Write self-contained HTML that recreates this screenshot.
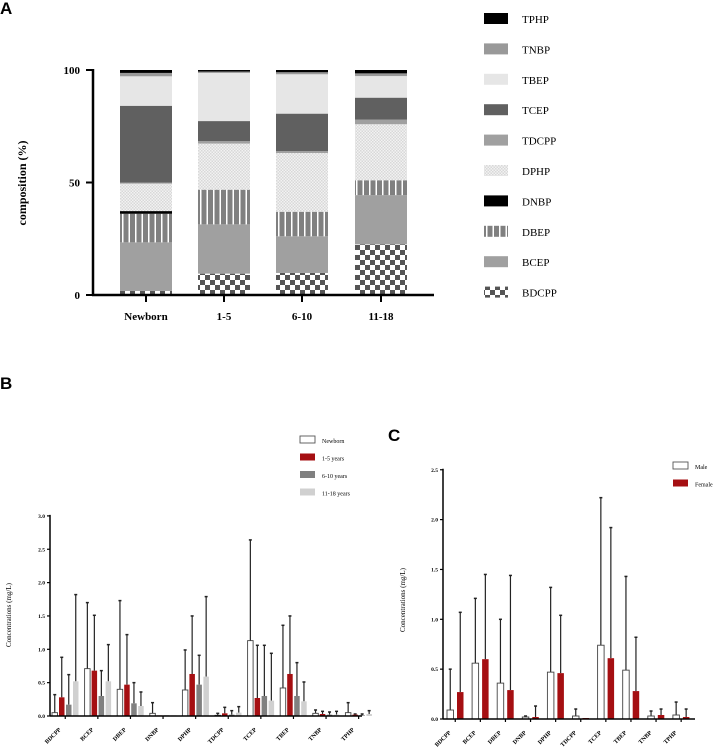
<!DOCTYPE html>
<html><head><meta charset="utf-8"><style>
html,body{margin:0;padding:0;background:#fff;}
svg{display:block;font-family:"Liberation Serif",serif;}
.lbl{font-family:"Liberation Sans",sans-serif;font-weight:bold;font-size:17px;}
</style></head><body>
<svg id="fig" width="714" height="756" viewBox="0 0 714 756" xmlns="http://www.w3.org/2000/svg">
<defs>
<pattern id="pChk" width="10" height="10" patternUnits="userSpaceOnUse"><rect width="10" height="10" fill="#fff"/><rect width="5" height="5" fill="#555"/><rect x="5" y="5" width="5" height="5" fill="#555"/></pattern>
<pattern id="pFine" width="3" height="3" patternUnits="userSpaceOnUse"><rect width="3" height="3" fill="#f2f2f2"/><rect width="1.5" height="1.5" fill="#d8d8d8"/><rect x="1.5" y="1.5" width="1.5" height="1.5" fill="#d8d8d8"/></pattern>
<pattern id="pStripe" width="6.5" height="10" patternUnits="userSpaceOnUse"><rect width="6.5" height="10" fill="#808080"/><rect x="5" width="1.5" height="10" fill="#fff"/></pattern>
</defs>
<text class="lbl" x="0" y="14">A</text>
<text class="lbl" x="0" y="389">B</text>
<text class="lbl" x="388" y="441">C</text>
<g id="gA"></g>
<g id="gB"></g>
<g id="gC"></g>
</svg>
<script>
// Panel A data
const aCategories = ["Newborn","1-5","6-10","11-18"];
const aComponents = ["BDCPP","BCEP","DBEP","DNBP","DPHP","TDCPP","TCEP","TBEP","TNBP","TPHP"];
const aNewborn = [1.8,21.6,12.7,1.2,12.2,0.5,34.1,13.1,1.5,1.3];
const a1to5 = [9.5,21.9,15.4,0.0,20.5,1.1,8.9,21.4,0.6,0.7];
const a6to10 = [9.8,16.3,10.9,0.0,26.1,0.9,16.6,17.5,0.9,1.0];
const a11to18 = [22.5,21.9,6.6,0.0,24.9,2.1,9.7,9.6,1.2,1.5];
const aTicks = [0,50,100];
// Panel B data
const bCategories = ["BDCPP","BCEP","DBEP","DNBP","DPHP","TDCPP","TCEP","TBEP","TNBP","TPHP"];
const bSeriesNames = ["Newborn","1-5 years","6-10 years","11-18 years"];
const bNewborn = [0.05,0.71,0.40,0.04,0.39,0.01,1.13,0.42,0.04,0.05];
const bNewbornErr = [0.32,1.70,1.73,0.20,0.99,0.04,2.64,1.36,0.09,0.20];
const b1to5 = [0.28,0.68,0.47,0.00,0.63,0.04,0.27,0.63,0.03,0.02];
const b1to5Err = [0.88,1.51,1.22,0.00,1.50,0.13,1.06,1.50,0.07,0.03];
const b6to10 = [0.17,0.30,0.19,0.01,0.47,0.02,0.30,0.30,0.02,0.01];
const b6to10Err = [0.62,0.68,0.50,0.01,0.91,0.08,1.06,0.80,0.06,0.03];
const b11to18 = [0.52,0.52,0.15,0.01,0.59,0.05,0.23,0.22,0.02,0.03];
const b11to18Err = [1.82,1.07,0.36,0.01,1.79,0.14,0.94,0.51,0.07,0.08];
const bTicks = ["0.0","0.5","1.0","1.5","2.0","2.5","3.0"];
// Panel C data
const cCategories = ["BDCPP","BCEP","DBEP","DNBP","DPHP","TDCPP","TCEP","TBEP","TNBP","TPHP"];
const cSeriesNames = ["Male","Female"];
const cMale = [0.09,0.56,0.36,0.02,0.47,0.03,0.74,0.49,0.03,0.04];
const cMaleErr = [0.50,1.21,1.00,0.03,1.32,0.10,2.22,1.43,0.08,0.17];
const cFemale = [0.27,0.60,0.29,0.02,0.46,0.01,0.61,0.28,0.04,0.02];
const cFemaleErr = [1.07,1.45,1.44,0.13,1.04,0.01,1.92,0.82,0.10,0.10];
const cTicks = ["0.0","0.5","1.0","1.5","2.0","2.5"];

const NS="http://www.w3.org/2000/svg";
function mk(parent,tag,attrs,text){const e=document.createElementNS(NS,tag);for(const k in attrs)e.setAttribute(k,attrs[k]);if(text!==undefined)e.textContent=text;parent.appendChild(e);return e;}

// ---------- Panel A ----------
(function(){
const g=document.getElementById('gA');
const x0=93,y0=295,yTop=70,xEnd=434;
const ys=v=>y0-(v/100)*(y0-yTop);
const fills=["url(#pChk)","#a0a0a0","url(#pStripe)","#000","url(#pFine)","#a0a0a0","#606060","#e6e6e6","#999","#000"];
const data=[aNewborn,a1to5,a6to10,a11to18];
const centers=[146,224,302,381], bw=52;
data.forEach((vals,ci)=>{
  let cum=0;
  vals.forEach((v,k)=>{
    if(v<=0)return;
    const r=mk(g,'rect',{x:centers[ci]-bw/2,y:ys(cum+v),width:bw,height:ys(cum)-ys(cum+v),fill:fills[k]});
    
    
    cum+=v;
  });
  mk(g,'line',{x1:centers[ci],x2:centers[ci],y1:y0,y2:y0+7,stroke:'#000','stroke-width':2});
  const lb=mk(g,'text',{x:centers[ci],y:320,'text-anchor':'middle','font-size':'11','font-weight':'bold'},aCategories[ci]);
  
  
});
mk(g,'line',{x1:x0,x2:x0,y1:yTop-1,y2:y0+1,stroke:'#000','stroke-width':2.5});
mk(g,'line',{x1:x0-1,x2:xEnd,y1:y0,y2:y0,stroke:'#000','stroke-width':2.5});
aTicks.forEach(t=>{
  mk(g,'line',{x1:x0-7,x2:x0,y1:ys(t),y2:ys(t),stroke:'#000','stroke-width':2});
  const l=mk(g,'text',{x:x0-13,y:ys(t)+4,'text-anchor':'end','font-size':'11','font-weight':'bold'},String(t));
  
  
});
const yt=mk(g,'text',{transform:'translate(26,183) rotate(-90)','text-anchor':'middle','font-size':'12','font-weight':'bold'},'composition (%)');


const rev=aComponents.map((c,i)=>i).reverse();
rev.forEach((k,j)=>{
  const y=19+j*30.4;
  const sw=mk(g,'rect',{x:484,y:y-6,width:24,height:11,fill:fills[k]});
  
  
  const t=mk(g,'text',{x:522,y:y+4,'font-size':'11'},aComponents[k]);
  
  
});
})();

// ---------- grouped bar helper ----------
function grouped(g,opt){
  const ys=v=>opt.y0-v*opt.scale;
  opt.series.forEach((s,si)=>{
    s.vals.forEach((v,ci)=>{
      const x=opt.gx0+ci*opt.gstep+si*opt.pitch;
      const cx=x+opt.bw/2;
      const e=s.errs[ci];
      if(e>v){
        mk(g,'line',{x1:cx,x2:cx,y1:ys(v),y2:ys(e),stroke:'#222','stroke-width':1.2});
        mk(g,'line',{x1:cx-1.5,x2:cx+1.5,y1:ys(e),y2:ys(e),stroke:'#222','stroke-width':1.5});
      }
      const h=Math.max(0.6,v*opt.scale);
      const r=mk(g,'rect',{x:x,y:opt.y0-h,width:opt.bw,height:h,fill:s.fill,stroke:s.stroke,'stroke-width':s.stroke==='none'?0:0.9});
      
      
    });
  });
  mk(g,'line',{x1:opt.x0,x2:opt.x0,y1:ys(opt.ymax)-1,y2:opt.y0,stroke:'#000','stroke-width':1.5});
  mk(g,'line',{x1:opt.x0,x2:opt.xEnd,y1:opt.y0,y2:opt.y0,stroke:'#000','stroke-width':1.5});
  opt.ticks.forEach(t=>{
    const v=parseFloat(t);
    mk(g,'line',{x1:opt.x0-3,x2:opt.x0,y1:ys(v),y2:ys(v),stroke:'#000','stroke-width':1.2});
    const l=mk(g,'text',{x:opt.x0-5,y:ys(v)+2,'text-anchor':'end','font-size':'5.5','font-weight':'bold'},t);
    
    
  });
  opt.cats.forEach((c,ci)=>{
    const cx=opt.gx0+ci*opt.gstep+opt.groupW/2;
    mk(g,'line',{x1:cx,x2:cx,y1:opt.y0,y2:opt.y0+3,stroke:'#000','stroke-width':1.2});
    const tx=cx-4, ty=opt.y0+14;
    const l=mk(g,'text',{x:tx,y:ty,'text-anchor':'end','font-size':'6','font-weight':'bold',transform:'rotate(-45 '+tx+' '+ty+')'},c);
    
    
  });
  const yt=mk(g,'text',{transform:'translate('+opt.titleX+','+opt.titleY+') rotate(-90)','text-anchor':'middle','font-size':'7'},'Concentrations (mg/L)');
  
  
  opt.series.forEach((s,si)=>{
    const y=opt.legY+si*opt.legStep;
    const sw=mk(g,'rect',{x:opt.legX,y:y-4,width:15,height:7,fill:s.fill,stroke:s.stroke==='none'?'none':'#555','stroke-width':0.9});
    
    
    const t=mk(g,'text',{x:opt.legX+22,y:y+3,'font-size':'6'},s.name);
    
    
  });
}

grouped(document.getElementById('gB'),{
  cats:bCategories,x0:50,xEnd:362,y0:716,scale:66.7,ymax:3.0,ticks:bTicks,
  gx0:52,gstep:32.6,pitch:7,bw:5.5,groupW:26.5,titleX:11,titleY:615,
  legX:300,legY:440,legStep:17.5,
  series:[
    {key:'newborn',name:bSeriesNames[0],vals:bNewborn,errs:bNewbornErr,fill:'#fff',stroke:'#444'},
    {key:'1-5',name:bSeriesNames[1],vals:b1to5,errs:b1to5Err,fill:'#a50f12',stroke:'none'},
    {key:'6-10',name:bSeriesNames[2],vals:b6to10,errs:b6to10Err,fill:'#808080',stroke:'none'},
    {key:'11-18',name:bSeriesNames[3],vals:b11to18,errs:b11to18Err,fill:'#d0d0d0',stroke:'none'}
  ]
});
grouped(document.getElementById('gC'),{
  cats:cCategories,x0:443,xEnd:695,y0:719,scale:99.7,ymax:2.5,ticks:cTicks,
  gx0:447,gstep:25.1,pitch:10,bw:6.5,groupW:16.5,titleX:405,titleY:600,
  legX:673,legY:466,legStep:17.5,
  series:[
    {key:'male',name:cSeriesNames[0],vals:cMale,errs:cMaleErr,fill:'#fff',stroke:'#444'},
    {key:'female',name:cSeriesNames[1],vals:cFemale,errs:cFemaleErr,fill:'#a50f12',stroke:'none'}
  ]
});
</script>
</body></html>
